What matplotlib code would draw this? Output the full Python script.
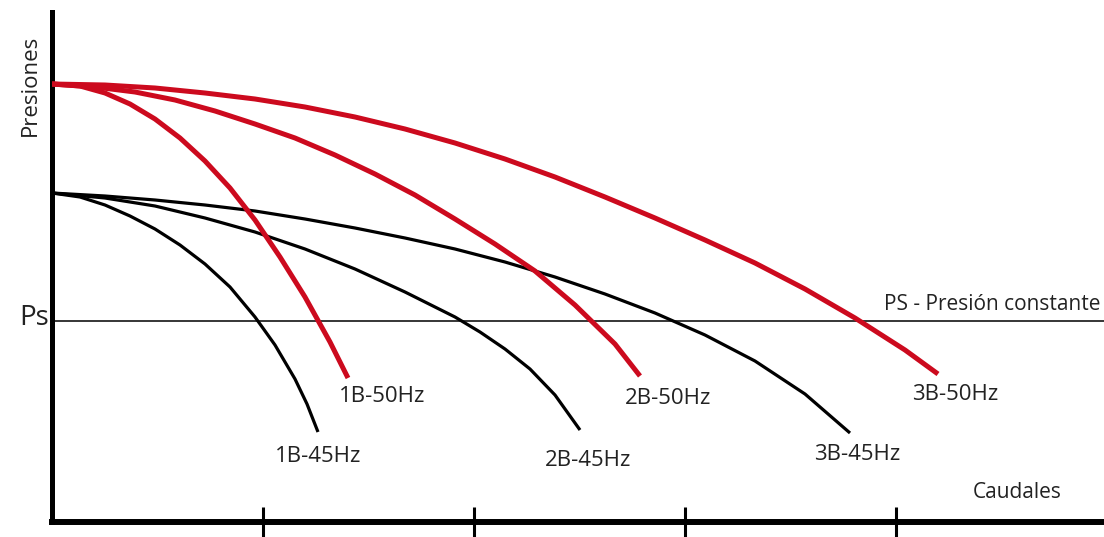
import matplotlib
matplotlib.use("Agg")
import matplotlib.pyplot as plt

plt.rcParams['font.family'] = ['Open Sans', 'DejaVu Sans']

# curvas (caudal, presion) en unidades arbitrarias
q_1b50 = [0, 28, 53, 78, 103, 128, 153, 178, 203, 228, 253, 278, 296]
h_1b50 = [438, 436, 429, 418, 403, 384, 361, 334, 302, 265, 225, 180, 144]

q_2b50 = [0, 43, 83, 123, 163, 203, 243, 283, 323, 363, 403, 443, 483, 523, 563, 588]
h_2b50 = [438, 435, 430, 422, 411, 398, 384, 367, 348, 327, 303, 278, 251, 217, 178, 146]

q_3b50 = [0, 53, 103, 153, 203, 253, 303, 353, 403, 453, 503, 553, 603, 653, 703, 753, 803, 853, 886]
h_3b50 = [438, 437, 434, 429, 423, 415, 405, 393, 379, 363, 345, 325, 304, 282, 259, 233, 204, 172, 148]

q_1b45 = [0, 28, 53, 78, 103, 128, 153, 178, 203, 223, 243, 255, 266]
h_1b45 = [329, 325, 317, 306, 293, 277, 258, 235, 205, 177, 143, 118, 90]

q_2b45 = [0, 53, 103, 153, 203, 253, 303, 353, 403, 428, 453, 478, 503, 528]
h_2b45 = [329, 324, 316, 304, 290, 273, 253, 230, 205, 190, 173, 153, 127, 92]

q_3b45 = [0, 53, 103, 153, 203, 253, 303, 353, 403, 453, 503, 553, 603, 653, 703, 753, 798]
h_3b45 = [329, 326, 322, 317, 311, 303, 294, 284, 273, 260, 245, 228, 209, 187, 161, 128, 89]

ps = 201
x_ticks = [211, 422, 633, 844]

rojo = '#cc0a1e'
gris = '#222222'

fig = plt.figure(figsize=(11.04, 5.37), dpi=100)
ax = fig.add_axes([52/1104, 15/537, 1052/1104, 510/537])

ax.axhline(ps, color='black', lw=1.1, zorder=1)

for q, h in [(q_1b45, h_1b45), (q_2b45, h_2b45), (q_3b45, h_3b45)]:
    ax.plot(q, h, color='black', lw=2.3, solid_capstyle='butt', solid_joinstyle='round', zorder=2)
for q, h in [(q_1b50, h_1b50), (q_2b50, h_2b50), (q_3b50, h_3b50)]:
    ax.plot(q, h, color=rojo, lw=3.6, solid_capstyle='butt', solid_joinstyle='round', zorder=3)

fs = 16
ax.text(330, 125, '1B-50Hz', ha='center', va='center', fontsize=fs, color=gris)
ax.text(266, 65, '1B-45Hz', ha='center', va='center', fontsize=fs, color=gris)
ax.text(616, 124, '2B-50Hz', ha='center', va='center', fontsize=fs, color=gris)
ax.text(536, 62, '2B-45Hz', ha='center', va='center', fontsize=fs, color=gris)
ax.text(903, 127, '3B-50Hz', ha='center', va='center', fontsize=fs, color=gris)
ax.text(805, 67, '3B-45Hz', ha='center', va='center', fontsize=fs, color=gris)
ax.text(1048, ps + 6, 'PS - Presión constante', ha='right', va='bottom',
        fontsize=15, color=gris)
ax.text(965, 29, 'Caudales', ha='center', va='center', fontsize=15, color=gris)

ax.set_xlim(0, 1052)
ax.set_ylim(0, 510)
ax.set_xticks(x_ticks)
ax.set_xticklabels([])
ax.set_yticks([])
ax.tick_params(axis='x', direction='inout', length=21, width=2.2, color='black')

for s in ['top', 'right']:
    ax.spines[s].set_visible(False)
ax.spines['left'].set_linewidth(3.6)
ax.spines['bottom'].set_linewidth(4.3)

fig.text(30/1104, 1 - 85/537, 'Presiones', rotation=90, ha='center', va='center',
         fontsize=16, color=gris)
fig.text(34/1104, 1 - 318/537, 'Ps', ha='center', va='center', fontsize=20, color=gris)

fig.savefig('out.png', dpi=100, facecolor='white')
